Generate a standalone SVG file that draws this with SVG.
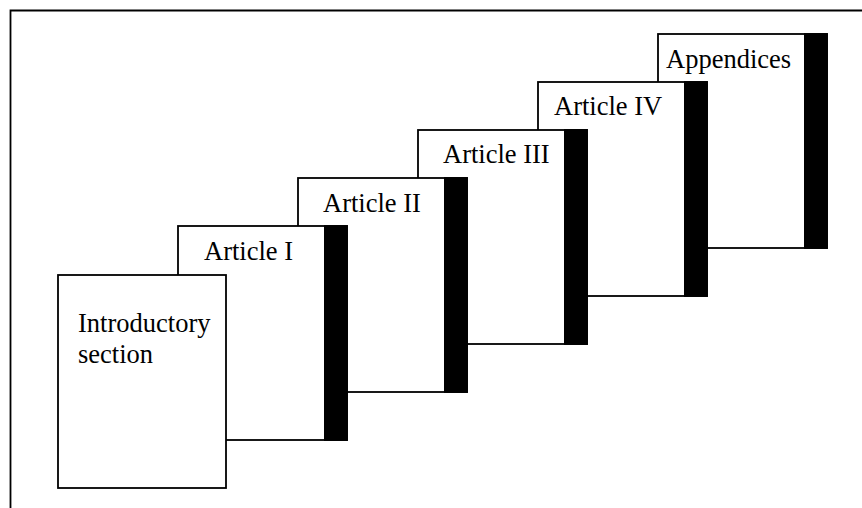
<svg xmlns="http://www.w3.org/2000/svg" width="862" height="508" viewBox="0 0 862 508">
<style>
.box{fill:#fff;stroke:#000;stroke-width:1.8}
.bar{fill:#000}
.t{font-family:"Liberation Serif","Times New Roman",serif;font-size:26.5px;fill:#000}
.frame{fill:none;stroke:#000;stroke-width:1.8}
</style>
<rect x="0" y="0" width="862" height="508" fill="#fff"/>
<path class="frame" d="M10.5,508 V10.5 H862"/>
<g id="appendices">
<rect class="box" x="658" y="34" width="169" height="214"/>
<rect class="bar" x="804" y="33.1" width="23.9" height="215.8"/>
<text class="t" x="666" y="68">Appendices</text>
</g>
<g id="article4">
<rect class="box" x="538" y="82" width="169" height="214"/>
<rect class="bar" x="684" y="81.1" width="23.9" height="215.8"/>
<text class="t" x="554" y="115">Article IV</text>
</g>
<g id="article3">
<rect class="box" x="418" y="130" width="169" height="214"/>
<rect class="bar" x="564" y="129.1" width="23.9" height="215.8"/>
<text class="t" x="443" y="163">Article III</text>
</g>
<g id="article2">
<rect class="box" x="298" y="178" width="169" height="214"/>
<rect class="bar" x="444" y="177.1" width="23.9" height="215.8"/>
<text class="t" x="323" y="212">Article II</text>
</g>
<g id="article1">
<rect class="box" x="178" y="226" width="169" height="214"/>
<rect class="bar" x="324" y="225.1" width="23.9" height="215.8"/>
<text class="t" x="204" y="260">Article I</text>
</g>
<g id="intro">
<rect class="box" x="58" y="275" width="168" height="213"/>
<text class="t" x="78" y="332">Introductory</text>
<text class="t" x="78" y="363">section</text>
</g>
<g id="connectors"></g>
</svg>
